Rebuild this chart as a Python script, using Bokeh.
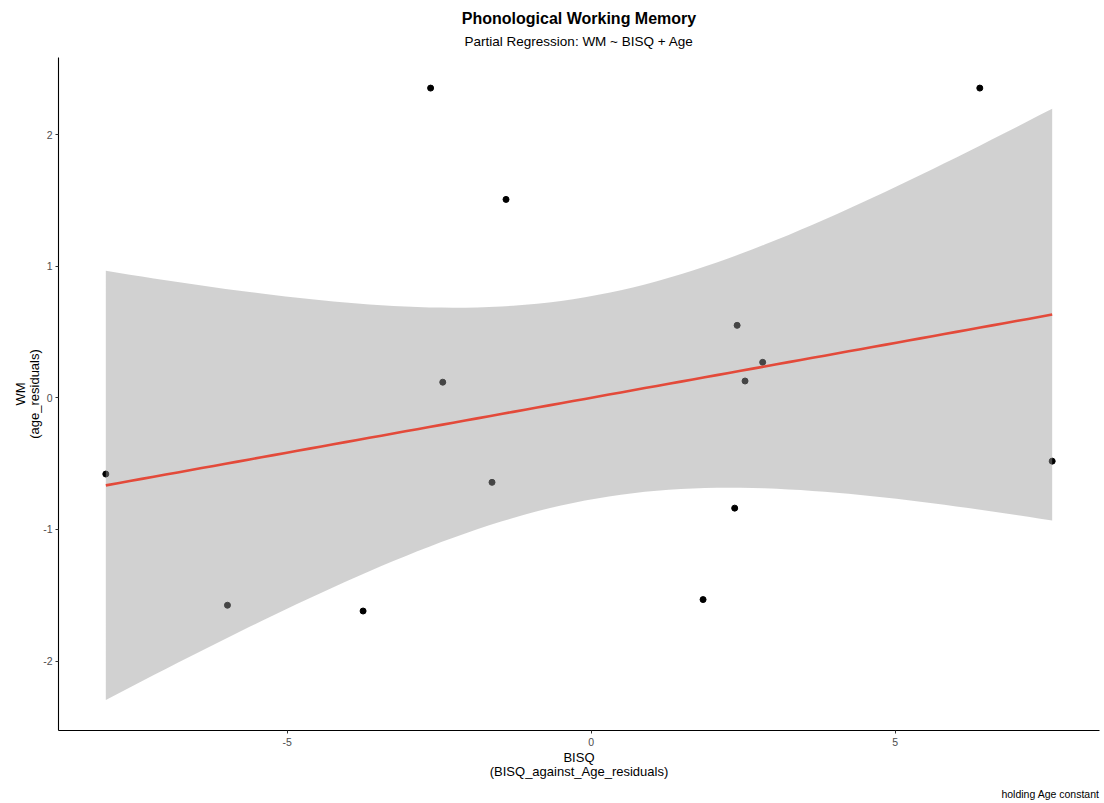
import numpy as np
from bokeh.plotting import figure
from bokeh.models import Range1d, FixedTicker, Title
from bokeh.embed import file_html
from bokeh.resources import INLINE

# ---- data ----
bisq_resid = [-7.98, -5.98, -3.75, -2.64, -2.44, -1.63, -1.40,
              1.84, 2.36, 2.40, 2.53, 2.82, 6.39, 7.58]
wm_resid = [-0.579, -1.576, -1.620, 2.354, 0.119, -0.642, 1.508,
            -1.533, -0.838, 0.551, 0.128, 0.270, 2.354, -0.481]
x_ticks = [-5, 0, 5]
x_tick_labels = ["-5", "0", "5"]
y_ticks = [-2, -1, 0, 1, 2]
y_tick_labels = ["-2", "-1", "0", "1", "2"]
title_text = "Phonological Working Memory"
subtitle_text = "Partial Regression: WM ~ BISQ + Age"
x_label = "BISQ\n(BISQ_against_Age_residuals)"
y_label = "WM\n(age_residuals)"
caption_text = "holding Age constant"

# ---- linear fit with 95% confidence band (as geom_smooth(method="lm")) ----
x = np.array(bisq_resid)
y = np.array(wm_resid)
n = len(x)
slope, intercept = np.polyfit(x, y, 1)
resid = y - (slope * x + intercept)
s = np.sqrt(np.sum(resid ** 2) / (n - 2))
sxx = np.sum((x - x.mean()) ** 2)
t_crit = 2.178813  # t(0.975, df=12)
xs = np.linspace(x.min(), x.max(), 80)
fit = slope * xs + intercept
se = s * np.sqrt(1.0 / n + (xs - x.mean()) ** 2 / sxx)
lower = fit - t_crit * se
upper = fit + t_crit * se

# ggplot-like 5% expansion
def expand(lo, hi, f=0.05):
    d = hi - lo
    return lo - f * d, hi + f * d

x0, x1 = expand(x.min(), x.max())
y0, y1 = expand(min(y.min(), lower.min()), max(y.max(), upper.max()))

FONT = "Liberation Sans"

p = figure(width=1104, height=803, output_backend="svg", toolbar_location=None,
           x_range=Range1d(x0, x1), y_range=Range1d(y0, y1),
           min_border_left=58, min_border_right=5, min_border_top=57,
           min_border_bottom=70)
p.outline_line_color = None
p.background_fill_color = "white"
p.border_fill_color = "white"
p.xgrid.visible = False
p.ygrid.visible = False

# points first, then ribbon over them, then fit line
p.scatter(bisq_resid, wm_resid, size=6, color="black")
p.varea(x=xs, y1=lower, y2=upper, fill_color="#999999", fill_alpha=0.45)
p.line(xs, fit, line_color="#E34A3A", line_width=2.6)

for ax, ticks, labels, lab in ((p.xaxis[0], x_ticks, x_tick_labels, x_label),
                               (p.yaxis[0], y_ticks, y_tick_labels, y_label)):
    ax.ticker = FixedTicker(ticks=ticks)
    ax.major_label_overrides = {t: l for t, l in zip(ticks, labels)}
    ax.minor_tick_line_color = None
    ax.major_tick_in = 0
    ax.major_tick_out = 3
    ax.major_tick_line_color = "#333333"
    ax.axis_line_color = "black"
    ax.axis_line_width = 1.1
    ax.major_label_text_font = FONT
    ax.major_label_text_font_size = "10.5px"
    ax.major_label_text_color = "#4D4D4D"
    ax.axis_label = lab
    ax.axis_label_text_font = FONT
    ax.axis_label_text_font_size = "13px"
    ax.axis_label_text_font_style = "normal"
    ax.axis_label_text_color = "black"
    ax.axis_label_text_line_height = 0.94

p.xaxis[0].major_label_standoff = 4
p.xaxis[0].axis_label_standoff = 1
p.xaxis[0].axis_label_text_line_height = 0.98
p.yaxis[0].major_label_standoff = 3
p.yaxis[0].axis_label_standoff = -2

p.add_layout(Title(text=caption_text, align="right", text_font=FONT,
                   text_font_size="10.5px", text_font_style="normal",
                   text_color="black", standoff=7), "below")
p.add_layout(Title(text=subtitle_text, align="center", text_font=FONT,
                   text_font_size="13.5px", text_font_style="normal",
                   text_color="black", standoff=14, vertical_align="top"), "above")
p.add_layout(Title(text=title_text, align="center", text_font=FONT,
                   text_font_size="16px", text_font_style="bold",
                   text_color="black", standoff=0), "above")

open("out.html", "w").write(file_html(p, INLINE))
